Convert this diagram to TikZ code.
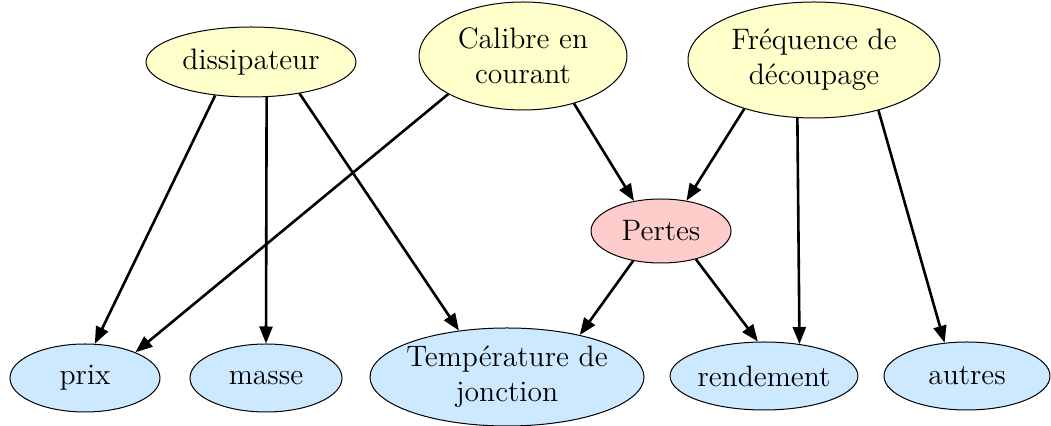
\documentclass[tikz,border=0pt]{standalone}
\usepackage{xcolor}
\usepackage{tikz}
\usetikzlibrary{shapes.geometric,arrows.meta}

\definecolor{causefill}{HTML}{FFFFCC}
\definecolor{effectfill}{HTML}{CCE9FF}
\definecolor{lossfill}{HTML}{FFCCCC}

\begin{document}
\begin{tikzpicture}[
  x=0.5pt, y=-0.5pt,
  bubble/.style={draw, ellipse, line width=0.5pt, inner sep=0pt, align=center,
                 font=\fontsize{14.8}{17.5}\selectfont},
  cause/.style={bubble, fill=causefill},
  effect/.style={bubble, fill=effectfill},
  loss/.style={bubble, fill=lossfill},
  dep/.style={draw, line width=1.3pt, -{Triangle[length=8.5pt, width=6.5pt]}}
]
\useasboundingbox (0,0) rectangle (1051,426);

% causes
\node[cause, minimum width=105pt, minimum height=35pt] (diss) at (251,62) {dissipateur};
\node[cause, minimum width=104pt, minimum height=54pt] (calibre) at (523,56) {Calibre en\\courant};
\node[cause, minimum width=126pt, minimum height=58pt] (freq) at (814,60) {Fréquence de\\découpage};
\node[loss, minimum width=70pt, minimum height=32pt] (pertes) at (661,231) {Pertes};

% consequences
\node[effect, minimum width=75pt, minimum height=34pt] (prix) at (85,378) {prix};
\node[effect, minimum width=76pt, minimum height=34pt] (masse) at (266,378) {masse};
\node[effect, minimum width=137pt, minimum height=49pt, inner xsep=-5pt] (temp) at (507,377) {Température de\\jonction};
\node[effect, minimum width=86pt, minimum height=34pt] (rend) at (764,376) {rendement};
\node[effect, minimum width=83pt, minimum height=34pt] (autres) at (967,376) {autres};

\draw[dep] (diss.-137) -- (prix.74);
\draw[dep] (diss.-66) -- (masse.north);
\draw[dep] (diss.-33) -- (temp.136);
\draw[dep] (calibre.-153) -- (prix.27);
\draw[dep] (calibre.-43) -- (pertes.132);
\draw[dep] (freq.-145) -- (pertes.50);
\draw[dep] (freq.-106) -- (rend.42);
\draw[dep] (freq.-38) -- (autres.124);
\draw[dep] (pertes.-133) -- (temp.30);
\draw[dep] (pertes.-39) -- (rend.100);
\end{tikzpicture}
\end{document}
